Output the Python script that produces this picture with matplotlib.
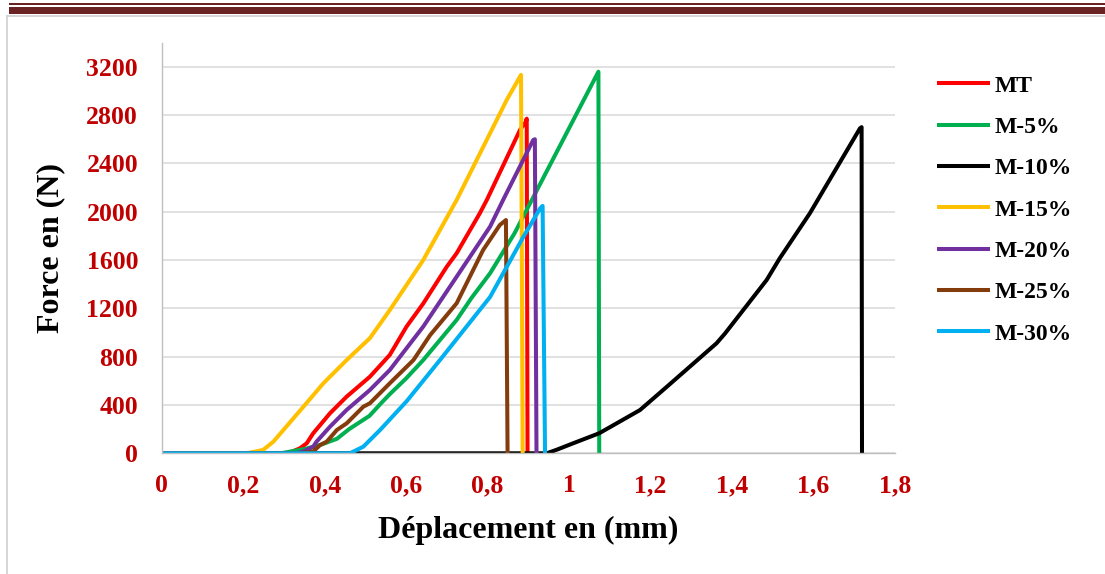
import matplotlib
matplotlib.use('Agg')
import matplotlib.pyplot as plt
from matplotlib.lines import Line2D
from matplotlib.patches import Rectangle

# deplacement (mm) / force (N)
mt_x = [0, 0.31, 0.339, 0.356, 0.372, 0.413, 0.454, 0.511, 0.560, 0.601, 0.642, 0.700, 0.724, 0.781, 0.798, 0.880, 0.893, 0.896, 0.898]
mt_y = [0, 0, 41, 83, 166, 331, 469, 634, 815, 1049, 1240, 1546, 1656, 1988, 2097, 2680, 2740, 2770, 0]

m5_x = [0, 0.29, 0.30, 0.35, 0.39, 0.43, 0.46, 0.51, 0.54, 0.56, 0.60, 0.642, 0.724, 0.76, 0.806, 0.866, 1.072, 1.074]
m5_y = [0, 0, 5, 35, 70, 120, 200, 310, 420, 490, 620, 772, 1104, 1284, 1490, 1821, 3159, 0]

m10_x = [0, 0.945, 0.97, 1.010, 1.074, 1.174, 1.240, 1.362, 1.383, 1.485, 1.517, 1.591, 1.714, 1.718, 1.719]
m10_y = [0, 0, 30, 83, 166, 358, 551, 911, 993, 1435, 1614, 1987, 2690, 2700, 0]

m15_x = [0, 0.209, 0.249, 0.274, 0.348, 0.397, 0.454, 0.511, 0.560, 0.642, 0.724, 0.847, 0.882, 0.886]
m15_y = [0, 0, 28, 96, 386, 580, 772, 953, 1186, 1600, 2097, 2926, 3133, 0]

m20_x = [0, 0.33, 0.348, 0.372, 0.38, 0.413, 0.454, 0.511, 0.560, 0.642, 0.724, 0.806, 0.838, 0.912, 0.916, 0.920]
m20_y = [0, 0, 15, 55, 96, 220, 359, 524, 690, 1049, 1462, 1876, 2097, 2594, 2600, 0]

m25_x = [0, 0.339, 0.372, 0.389, 0.405, 0.430, 0.454, 0.495, 0.511, 0.560, 0.618, 0.659, 0.724, 0.789, 0.830, 0.845, 0.849]
m25_y = [0, 0, 15, 69, 96, 193, 248, 386, 414, 580, 772, 979, 1242, 1683, 1890, 1931, 0]

m30_x = [0, 0.462, 0.495, 0.536, 0.601, 0.683, 0.806, 0.888, 0.929, 0.935, 0.941]
m30_y = [0, 0, 55, 193, 430, 772, 1294, 1793, 2028, 2048, 0]

labels = ['MT', 'M-5%', 'M-10%', 'M-15%', 'M-20%', 'M-25%', 'M-30%']
colors = ['#FF0000', '#00B050', '#000000', '#FFC000', '#7030A0', '#843C0C', '#00B0F0']
series = [(mt_x, mt_y), (m5_x, m5_y), (m10_x, m10_y), (m15_x, m15_y),
          (m20_x, m20_y), (m25_x, m25_y), (m30_x, m30_y)]

plt.rcParams['font.family'] = 'Liberation Serif'
plt.rcParams['font.weight'] = 'bold'

W, H = 1105, 574
fig = plt.figure(figsize=(W / 100, H / 100), dpi=100)
ax = fig.add_axes([161.7 / W, 1 - 453.3 / H, (895 - 161.7) / W, (453.3 - 42.6) / H])

for (xs, ys), lab, c in zip(series, labels, colors):
    ax.plot(xs, ys, color=c, lw=2.9, label=lab, solid_joinstyle='round', solid_capstyle='butt')

ax.set_xlim(0, 1.8)
ax.set_ylim(0, 3400)
xt = [0, 0.2, 0.4, 0.6, 0.8, 1, 1.2, 1.4, 1.6, 1.8]
ax.set_xticks(xt)
ax.set_xticklabels(['0', '0,2', '0,4', '0,6', '0,8', '1', '1,2', '1,4', '1,6', '1,8'])
ax.set_yticks(range(0, 3201, 400))
ax.tick_params(length=0, labelsize=18.5, labelcolor='#C00000')
ax.tick_params(axis='x', pad=15)
ax.tick_params(axis='y', pad=17)
ax.yaxis.grid(True, color='#D9D9D9', lw=1.1)
ax.set_axisbelow(True)
for s in ['top', 'right']:
    ax.spines[s].set_visible(False)
for s in ['left', 'bottom']:
    ax.spines[s].set_color('#BFBFBF')
    ax.spines[s].set_linewidth(1.0)

fig.text(528 / W, 1 - 530 / H, 'Déplacement en (mm)', ha='center', va='center', fontsize=23, fontweight='bold')
fig.text(51 / W, 1 - 248 / H, 'Force en (N)', ha='center', va='center', rotation=90, fontsize=23, fontweight='bold')

ax.legend(loc='upper left', bbox_to_anchor=(936.7 / W, 1 - 75 / H), bbox_transform=fig.transFigure,
          frameon=False, borderpad=0, borderaxespad=0, fontsize=17, handlelength=2.25,
          handletextpad=0.21, labelspacing=0.84)

# page decoration: dark red double rule and grey frame
fig.add_artist(Rectangle((9 / W, 1 - 4.6 / H), 1, 1.6 / H, transform=fig.transFigure, color='#6B2222', lw=0))
fig.add_artist(Rectangle((9 / W, 1 - 14 / H), 1, 7.5 / H, transform=fig.transFigure, color='#6B2222', lw=0))
fig.add_artist(Line2D([7 / W, 1], [1 - 16 / H, 1 - 16 / H], transform=fig.transFigure, color='#D0D0D0', lw=1.2))
fig.add_artist(Line2D([7 / W, 7 / W], [0, 1 - 16 / H], transform=fig.transFigure, color='#D0D0D0', lw=1.2))

fig.savefig('out.png', dpi=100)
